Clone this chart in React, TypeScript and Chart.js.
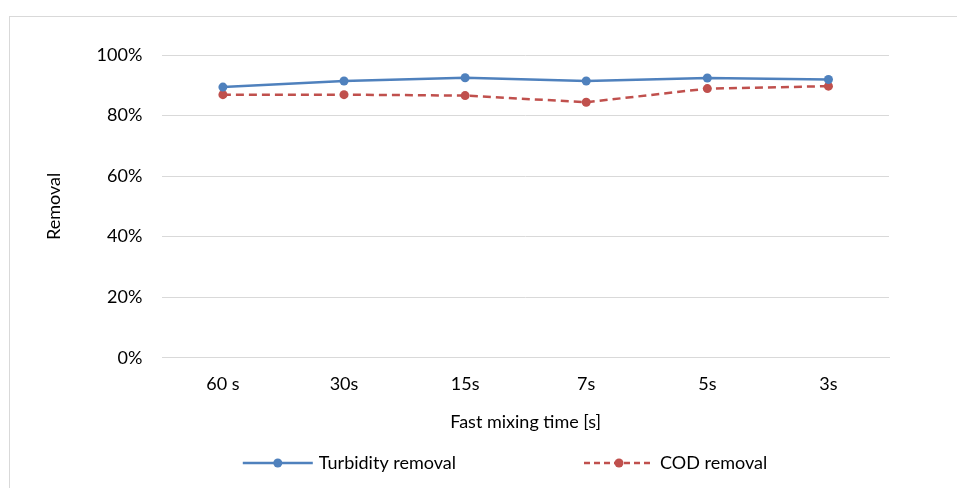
import React, { useEffect, useRef } from "react";
import { Chart, registerables } from "chart.js";

Chart.register(...registerables);

const categories = ["60 s", "30s", "15s", "7s", "5s", "3s"];
const turbidityRemoval = [89.4, 91.4, 92.5, 91.4, 92.4, 91.9];
const codRemoval = [86.9, 86.9, 86.6, 84.4, 88.9, 89.7];
const yTicks = [0, 20, 40, 60, 80, 100];

const BLUE = "#4F81BD";
const RED = "#C0504D";
const FONT = "Lato, 'Open Sans', sans-serif";
const FS = 18;

const bottomLegend = {
  id: "bottomLegend",
  afterDraw(chart: any) {
    const ctx = chart.ctx;
    const items = chart.data.datasets.map((ds: any) => ({
      text: ds.label as string,
      color: ds.borderColor as string,
      dash: (ds.borderDash || []) as number[],
    }));
    ctx.save();
    ctx.font = `${FS}px ${FONT}`;
    const markerW = 70;
    const gapText = 6;
    const gapItems = 128;
    const widths = items.map((it: any) => markerW + gapText + ctx.measureText(it.text).width);
    const total = widths.reduce((a: number, b: number) => a + b, 0) + gapItems * (items.length - 1);
    let x = 505 - total / 2;
    const y = chart.height - 25;
    items.forEach((it: any, i: number) => {
      ctx.strokeStyle = it.color;
      ctx.lineWidth = 2.5;
      ctx.setLineDash(it.dash.length ? [6, 4] : []);
      ctx.beginPath();
      ctx.moveTo(x, y);
      ctx.lineTo(x + markerW, y);
      ctx.stroke();
      ctx.setLineDash([]);
      ctx.fillStyle = it.color;
      ctx.beginPath();
      ctx.arc(x + markerW / 2, y, 4.5, 0, Math.PI * 2);
      ctx.fill();
      ctx.fillStyle = "#000";
      ctx.textAlign = "left";
      ctx.textBaseline = "middle";
      ctx.fillText(it.text, x + markerW + gapText, y);
      x += widths[i] + gapItems;
    });
    ctx.restore();
  },
};

export default function App() {
  const ref = useRef<HTMLCanvasElement>(null);
  useEffect(() => {
    if (!ref.current) return;
    const chart = new Chart(ref.current, {
      type: "line",
      data: {
        labels: categories,
        datasets: [
          {
            label: "Turbidity removal",
            data: turbidityRemoval,
            borderColor: BLUE,
            backgroundColor: BLUE,
            borderWidth: 2.5,
            pointRadius: 4.5,
            pointHoverRadius: 4.5,
            pointBackgroundColor: BLUE,
            pointBorderWidth: 0,
            tension: 0,
          },
          {
            label: "COD removal",
            data: codRemoval,
            borderColor: RED,
            backgroundColor: RED,
            borderWidth: 2.5,
            borderDash: [8, 5],
            pointRadius: 4.5,
            pointHoverRadius: 4.5,
            pointBackgroundColor: RED,
            pointBorderWidth: 0,
            tension: 0,
          },
        ],
      },
      plugins: [bottomLegend],
      options: {
        animation: false,
        responsive: false,
        maintainAspectRatio: false,
        layout: { padding: { left: 43, right: 68, top: 55, bottom: 55 } },
        plugins: {
          tooltip: { enabled: false },
          legend: { display: false },
        },
        scales: {
          x: {
            offset: true,
            grid: { display: false, drawTicks: false },
            border: { display: true, color: "#d9d9d9", width: 1 },
            ticks: { color: "#000", font: { family: FONT, size: FS }, padding: 16 },
            title: {
              display: true,
              text: "Fast mixing time [s]",
              color: "#000",
              font: { family: FONT, size: FS },
              padding: { top: 0, bottom: 0 },
            },
          },
          y: {
            min: 0,
            max: 100,
            afterBuildTicks: (axis: any) => {
              axis.ticks = yTicks.map((v) => ({ value: v }));
            },
            grid: { color: "#d9d9d9", lineWidth: 1, drawTicks: false },
            border: { display: false },
            ticks: {
              color: "#000",
              font: { family: FONT, size: FS },
              padding: 20,
              callback: (v: any) => v + "%",
            },
            title: {
              display: true,
              text: "Removal",
              color: "#000",
              font: { family: FONT, size: FS },
              padding: { top: 0, bottom: 12 },
            },
          },
        },
      },
    });
    return () => chart.destroy();
  }, []);

  return (
    <div style={{ position: "fixed", left: 0, top: 0, width: 957, height: 488, background: "#fff" }}>
      <div
        style={{
          position: "absolute",
          left: 9,
          top: 16,
          width: 1000,
          height: 600,
          border: "1px solid #d9d9d9",
          boxSizing: "border-box",
        }}
      />
      <canvas ref={ref} width={957} height={488} style={{ position: "absolute", left: 0, top: 0 }} />
    </div>
  );
}
